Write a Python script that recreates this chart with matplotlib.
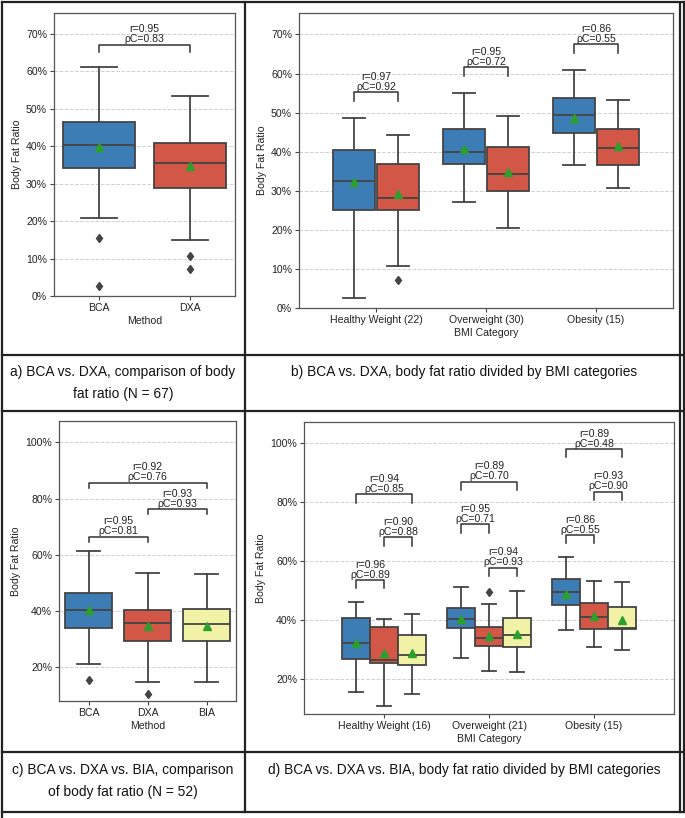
import numpy as np
import matplotlib
matplotlib.use("Agg")
import matplotlib.pyplot as plt
from matplotlib.lines import Line2D
from matplotlib.ticker import PercentFormatter

plt.rcParams['font.family'] = ['Liberation Sans', 'DejaVu Sans']

# ---- data (body fat ratio, %) ----
methods_ab = ['BCA', 'DXA']
methods_cd = ['BCA', 'DXA', 'BIA']
bmi_b = ['Healthy Weight (22)', 'Overweight (30)', 'Obesity (15)']
bmi_d = ['Healthy Weight (16)', 'Overweight (21)', 'Obesity (15)']

# five-number rows: whisker low, q1, median, q3, whisker high
a_bca = [20.8, 34.1, 40.2, 46.3, 61.1]
a_dxa = [14.9, 28.9, 35.4, 40.7, 53.4]
a_means = [39.8, 34.6]
a_fliers = [[15.4, 2.8], [10.7, 7.3]]
a_r = [0.95]
a_pc = [0.83]

b_bca = [[2.6, 25.2, 32.6, 40.4, 48.6],
         [27.2, 36.8, 40.0, 45.9, 55.1],
         [36.5, 44.8, 49.4, 53.8, 60.9]]
b_dxa = [[10.7, 25.1, 28.2, 36.9, 44.2],
         [20.5, 29.9, 34.3, 41.3, 49.1],
         [30.7, 36.6, 41.0, 45.8, 53.2]]
b_means = [[32.2, 40.8, 48.7], [29.1, 34.8, 41.4]]
b_fliers = [[[], [], []], [[7.1], [], []]]
b_r = [0.97, 0.95, 0.86]
b_pc = [0.92, 0.72, 0.55]

c_bca = [21.0, 34.0, 40.4, 46.3, 61.3]
c_dxa = [14.9, 29.5, 35.7, 40.5, 53.4]
c_bia = [14.8, 29.5, 35.3, 40.8, 53.0]
c_means = [40.5, 34.7, 34.6]
c_fliers = [[15.4], [10.5], []]
c_pairs = [(0, 1), (1, 2), (0, 2)]
c_r = [0.95, 0.93, 0.92]
c_pc = [0.81, 0.93, 0.76]

d_bca = [[15.3, 26.8, 32.2, 40.5, 45.9],
         [27.1, 37.0, 40.2, 43.8, 51.2],
         [36.5, 44.9, 49.5, 53.9, 61.1]]
d_dxa = [[10.7, 25.3, 26.3, 37.5, 40.2],
         [22.6, 31.1, 33.7, 37.6, 45.3],
         [30.7, 36.7, 41.0, 45.8, 53.2]]
d_bia = [[14.7, 24.6, 27.9, 34.7, 42.0],
         [22.1, 30.8, 34.7, 40.7, 49.7],
         [29.6, 36.8, 37.1, 44.2, 52.7]]
d_means = [[32.2, 40.2, 48.7], [28.6, 34.6, 41.2], [28.6, 35.1, 39.9]]
d_fliers = [[[], [], []], [[], [49.2], []], [[], [], []]]
d_pairs = [(0, 1), (1, 2), (0, 2)]
d_r = [[0.96, 0.90, 0.94], [0.95, 0.94, 0.89], [0.86, 0.93, 0.89]]
d_pc = [[0.89, 0.88, 0.85], [0.71, 0.93, 0.70], [0.55, 0.90, 0.48]]

# bracket levels (lower end of bracket ticks)
a_lvl = [65.0]
b_lvl = [53.0, 59.5, 65.3]
c_lvl = [64.6, 74.4, 83.9]
d_lvl = [[50.6, 65.1, 79.7], [69.5, 54.8, 84.0], [65.9, 80.6, 95.0]]

# ---- styles ----
colors = ['#3b7db4', '#d25747', '#f2f2a6']
edge = '#444444'
lw = 1.3
fs = 7.6
W, H = 685, 818


def mkstats(row, mean, fl):
    return dict(whislo=row[0], q1=row[1], med=row[2], q3=row[3],
                whishi=row[4], mean=mean, fliers=fl)


def boxes(ax, stats, pos, width, color):
    ax.bxp(stats, positions=pos, widths=width, patch_artist=True,
           showmeans=True, manage_ticks=False,
           boxprops=dict(facecolor=color, edgecolor=edge, linewidth=lw),
           medianprops=dict(color=edge, linewidth=lw),
           whiskerprops=dict(color=edge, linewidth=lw),
           capprops=dict(color=edge, linewidth=lw),
           flierprops=dict(marker='d', markerfacecolor=edge,
                           markeredgecolor=edge, markersize=4.5),
           meanprops=dict(marker='^', markerfacecolor='#2ca02c',
                          markeredgecolor='#2ca02c', markersize=5.5))


def bracket(ax, x1, x2, y, h, r, pc):
    ax.plot([x1, x1, x2, x2], [y, y + h, y + h, y], color='#333333', lw=1.1)
    ax.annotate(f"r={r:.2f}\nρC={pc:.2f}", ((x1 + x2) / 2, y + h),
                xytext=(0, 0.3), textcoords='offset points',
                ha='center', va='bottom', fontsize=fs, linespacing=1.0,
                color='#222222')


def style(ax, ylim, xlim, labels, xlabel, yticks):
    ax.set_ylim(*ylim)
    ax.set_xlim(*xlim)
    ax.set_yticks(yticks)
    ax.yaxis.set_major_formatter(PercentFormatter(100, decimals=0))
    ax.set_xticks(range(len(labels)))
    ax.set_xticklabels(labels)
    ax.set_xlabel(xlabel, fontsize=fs, labelpad=2, color='#222222')
    ax.set_ylabel('Body Fat Ratio', fontsize=fs, labelpad=3, color='#222222')
    ax.tick_params(labelsize=fs, length=3, width=0.8, pad=2,
                   colors='#444444', labelcolor='#222222')
    ax.yaxis.grid(True, linestyle='--', color='#d0d0d0', lw=0.7)
    ax.set_axisbelow(True)
    for s in ax.spines.values():
        s.set_color('#555555')
        s.set_linewidth(0.9)


def px_axes(fig, x0, y0, x1, y1):
    return fig.add_axes([x0 / W, 1 - y1 / H, (x1 - x0) / W, (y1 - y0) / H])


fig = plt.figure(figsize=(W / 100, H / 100), dpi=100)

# a) BCA vs DXA
ax = px_axes(fig, 54, 13, 235, 296)
for i, (row, fl) in enumerate(zip([a_bca, a_dxa], a_fliers)):
    boxes(ax, [mkstats(row, a_means[i], fl)], [i], 0.8, colors[i])
bracket(ax, 0, 1, a_lvl[0], 2.0, a_r[0], a_pc[0])
style(ax, (0, 75.5), (-0.5, 1.5), methods_ab, 'Method', np.arange(0, 71, 10))

# b) BCA vs DXA by BMI
ax = px_axes(fig, 299, 13, 673, 308)
offs = [-0.2, 0.2]
for i, data in enumerate([b_bca, b_dxa]):
    st = [mkstats(data[g], b_means[i][g], b_fliers[i][g]) for g in range(3)]
    boxes(ax, st, np.arange(3) + offs[i], 0.39, colors[i])
for g in range(3):
    bracket(ax, g + offs[0], g + offs[1], b_lvl[g], 2.2, b_r[g], b_pc[g])
style(ax, (0, 75.5), (-0.7, 2.7), bmi_b, 'BMI Category', np.arange(0, 71, 10))

# c) BCA vs DXA vs BIA
ax = px_axes(fig, 59, 421, 236, 701)
for i, row in enumerate([c_bca, c_dxa, c_bia]):
    boxes(ax, [mkstats(row, c_means[i], c_fliers[i])], [i], 0.8, colors[i])
for k, (p, q) in enumerate(c_pairs):
    bracket(ax, p, q, c_lvl[k], 1.8, c_r[k], c_pc[k])
style(ax, (8, 107.6), (-0.5, 2.5), methods_cd, 'Method', np.arange(20, 101, 20))

# d) BCA vs DXA vs BIA by BMI
ax = px_axes(fig, 304, 422, 674, 714)
offs = [-0.2667, 0.0, 0.2667]
for i, data in enumerate([d_bca, d_dxa, d_bia]):
    st = [mkstats(data[g], d_means[i][g], d_fliers[i][g]) for g in range(3)]
    boxes(ax, st, np.arange(3) + offs[i], 0.262, colors[i])
for g in range(3):
    for k, (p, q) in enumerate(d_pairs):
        bracket(ax, g + offs[p], g + offs[q], d_lvl[g][k], 2.8,
                d_r[g][k], d_pc[g][k])
style(ax, (8, 107), (-0.76, 2.76), bmi_d, 'BMI Category', np.arange(20, 101, 20))

# ---- table frame ----
def hline(y, x0=1.5, x1=683.5):
    fig.add_artist(Line2D([x0 / W, x1 / W], [1 - y / H, 1 - y / H],
                          transform=fig.transFigure, color='#222222', lw=1.6))


def vline(x, y0=1.5, y1=812):
    fig.add_artist(Line2D([x / W, x / W], [1 - y0 / H, 1 - y1 / H],
                          transform=fig.transFigure, color='#222222', lw=1.6))


for y in [1.5, 355, 411, 752, 812]:
    hline(y)
vline(1.5, 1.5, 818)
vline(245)
vline(683.5)
vline(680, 3, 812)

cap = dict(ha='center', va='top', fontsize=9.9, color='#111111', linespacing=1.7)
fig.text(123 / W, 1 - 365 / H, 'a) BCA vs. DXA, comparison of body\nfat ratio (N = 67)', **cap)
fig.text(464 / W, 1 - 365 / H, 'b) BCA vs. DXA, body fat ratio divided by BMI categories', **cap)
fig.text(123 / W, 1 - 763 / H, 'c) BCA vs. DXA vs. BIA, comparison\nof body fat ratio (N = 52)', **cap)
fig.text(464 / W, 1 - 763 / H, 'd) BCA vs. DXA vs. BIA, body fat ratio divided by BMI categories', **cap)

fig.savefig('out.png', dpi=100)
